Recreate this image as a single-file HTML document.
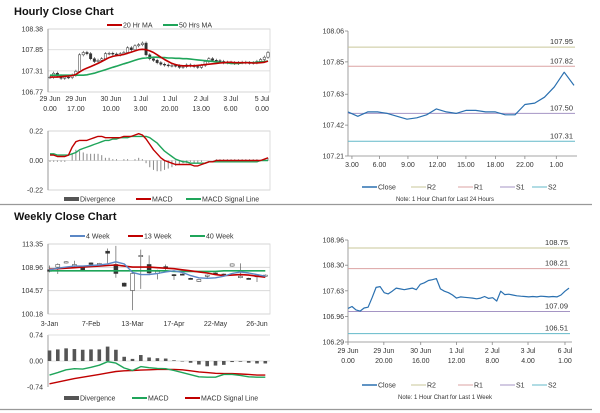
<!DOCTYPE html>
<html><head><meta charset="utf-8"><style>
html,body{margin:0;padding:0;background:#fff;width:600px;height:413px;overflow:hidden}
svg{display:block;font-family:"Liberation Sans",Arial,sans-serif}
</style></head><body>
<svg id="root" width="600" height="413" viewBox="0 0 600 413" xmlns="http://www.w3.org/2000/svg">
<text x="14" y="15" font-size="11" font-weight="bold" fill="#111">Hourly Close Chart</text>
<text x="14" y="220" font-size="11" font-weight="bold" fill="#111">Weekly Close Chart</text>
<line x1="0" y1="204.5" x2="592" y2="204.5" stroke="#999" stroke-width="1.2"/>
<line x1="0" y1="409.5" x2="592" y2="409.5" stroke="#999" stroke-width="1.2"/>
</svg>
<script>
// ---------- data ----------
const hourlyClose=[107.15,107.25,107.18,107.12,107.15,107.14,107.20,107.30,107.72,107.78,107.75,107.62,107.55,107.58,107.62,107.75,107.76,107.74,107.72,107.75,107.78,107.90,107.85,107.95,107.98,108.02,107.72,107.62,107.58,107.52,107.48,107.46,107.44,107.45,107.44,107.40,107.42,107.46,107.44,107.42,107.40,107.45,107.55,107.62,107.58,107.57,107.55,107.52,107.53,107.52,107.50,107.52,107.53,107.52,107.51,107.52,107.55,107.60,107.66,107.78];
const hourlyMA20=[107.15,107.15,107.15,107.16,107.17,107.18,107.19,107.22,107.28,107.34,107.38,107.42,107.46,107.50,107.55,107.60,107.65,107.68,107.70,107.71,107.73,107.76,107.79,107.82,107.85,107.86,107.85,107.82,107.78,107.72,107.66,107.60,107.55,107.50,107.47,107.45,107.44,107.44,107.44,107.44,107.45,107.46,107.47,107.48,107.49,107.50,107.51,107.52,107.53,107.53,107.52,107.52,107.52,107.52,107.52,107.51,107.51,107.52,107.53,107.56];
const hourlyMA50=[107.2,107.2,107.2,107.2,107.2,107.2,107.2,107.2,107.2,107.2,107.21,107.23,107.25,107.28,107.31,107.34,107.37,107.40,107.43,107.46,107.49,107.52,107.55,107.58,107.61,107.63,107.64,107.65,107.66,107.66,107.65,107.65,107.64,107.64,107.63,107.63,107.62,107.62,107.61,107.60,107.59,107.58,107.57,107.56,107.55,107.54,107.53,107.52,107.51,107.50,107.50,107.50,107.51,107.52,107.52,107.52,107.53,107.54,107.55,107.56];
const hourlyTickIdx=[0,7,16.5,24.5,32.4,40.9,48.9,57.4];
const hourlyTickTop=["29 Jun","29 Jun","30 Jun","1 Jul","1 Jul","2 Jul","3 Jul","5 Jul"];
const hourlyTickBot=["0.00","17.00","10.00","3.00","20.00","13.00","6.00","0.00"];
const hourlyPriceTicks=[108.38,107.85,107.31,106.77];
const hMacd=[0.04,0.04,0.03,0.03,0.03,0.04,0.10,0.14,0.15,0.15,0.15,0.16,0.17,0.18,0.18,0.17,0.17,0.17,0.17,0.17,0.18,0.18,0.18,0.19,0.20,0.19,0.16,0.12,0.08,0.05,0.02,0.00,-0.01,-0.02,-0.03,-0.03,-0.03,-0.03,-0.03,-0.04,-0.04,-0.03,-0.02,-0.01,-0.01,0.00,0.00,0.00,0.00,0.00,0.00,0.00,0.00,0.00,0.00,0.00,0.00,0.00,0.01,0.02];
const hSignal=[0.05,0.05,0.04,0.04,0.04,0.04,0.05,0.06,0.08,0.09,0.10,0.11,0.12,0.13,0.14,0.15,0.15,0.16,0.16,0.17,0.17,0.17,0.18,0.18,0.18,0.18,0.18,0.17,0.15,0.13,0.10,0.07,0.05,0.03,0.01,0.00,-0.01,-0.01,-0.02,-0.02,-0.02,-0.02,-0.02,-0.01,-0.01,-0.01,-0.01,-0.01,-0.01,-0.01,-0.01,-0.01,-0.01,-0.01,-0.01,-0.01,-0.01,0.00,0.00,0.00];
const hMacdTicks=[0.22,0.00,-0.22];
const dayClose=[107.51,107.48,107.51,107.51,107.50,107.48,107.46,107.47,107.49,107.53,107.51,107.50,107.52,107.52,107.51,107.51,107.49,107.49,107.56,107.57,107.61,107.68,107.78,107.69];
const dayLevels=[107.95,107.82,107.50,107.31];
const dayTicks=[108.06,107.85,107.63,107.42,107.21];
const dayTickIdx=[0.4,3.2,6.1,9.1,12,15,18,21.2];
const dayTickLabels=["3.00","6.00","9.00","12.00","15.00","18.00","22.00","1.00"];
const wOpen=[108.5,109.0,109.8,109.3,108.9,109.8,109.6,112.0,109.5,106.0,104.6,111.1,109.5,107.8,109.1,107.6,107.7,106.9,106.3,107.4,107.9,107.7,109.2,107.0,106.9,107.4,107.4];
const wClose=[108.2,109.5,110.0,109.5,108.4,109.5,109.7,111.6,107.8,105.4,107.8,111.2,107.9,108.2,109.0,107.4,107.6,106.8,106.7,107.5,107.8,107.6,109.6,107.3,106.8,107.3,107.5];
const wHigh=[109.3,109.7,110.1,110.2,109.0,109.9,109.8,112.5,113.0,106.1,108.2,112.3,111.2,108.5,109.5,107.7,107.8,107.0,106.8,107.6,108.0,107.8,109.7,109.7,107.0,107.4,107.6];
const wLow=[108.0,107.7,109.7,108.9,108.3,109.4,109.5,109.5,107.0,105.3,100.9,104.9,107.5,106.7,108.3,106.6,107.5,106.7,106.2,106.9,107.7,107.5,109.1,106.9,106.7,106.2,107.3];
const wMA4=[108.5,108.8,109.0,109.2,109.2,109.3,109.4,109.6,110.0,109.6,108.0,107.6,107.6,107.8,108.1,108.3,108.0,107.4,107.0,106.9,107.0,107.3,107.8,108.1,107.9,107.6,107.3];
const wMA13=[108.6,108.7,108.8,108.9,109.0,109.1,109.2,109.3,109.4,109.2,109.0,109.0,109.0,108.9,108.8,108.7,108.5,108.3,108.1,107.9,107.6,107.4,107.5,107.6,107.5,107.3,107.1];
const wMA40=[108.3,108.3,108.3,108.3,108.3,108.3,108.3,108.3,108.3,108.3,108.3,108.3,108.3,108.3,108.3,108.2,108.2,108.2,108.2,108.2,108.2,108.3,108.3,108.3,108.3,108.3,108.3];
const weekTickIdx=[0,5,10,15,20,25];
const weekTickLabels=["3-Jan","7-Feb","13-Mar","17-Apr","22-May","26-Jun"];
const weekPriceTicks=[113.35,108.96,104.57,100.18];
const wDiv=[0.30,0.33,0.36,0.34,0.32,0.33,0.33,0.41,0.32,0.12,0.06,0.17,0.10,0.08,0.07,0.02,0.00,-0.05,-0.10,-0.15,-0.13,-0.11,-0.03,-0.02,-0.05,-0.07,-0.07];
const wMacd=[-0.40,-0.33,-0.25,-0.22,-0.23,-0.18,-0.12,-0.02,-0.06,-0.20,-0.27,-0.16,-0.19,-0.21,-0.22,-0.27,-0.33,-0.39,-0.45,-0.46,-0.46,-0.38,-0.38,-0.41,-0.45,-0.46,-0.46];
const wSignal=[-0.65,-0.60,-0.55,-0.50,-0.46,-0.42,-0.38,-0.34,-0.30,-0.28,-0.27,-0.26,-0.25,-0.24,-0.24,-0.24,-0.25,-0.28,-0.31,-0.33,-0.35,-0.36,-0.36,-0.37,-0.38,-0.40,-0.40];
const wMacdTicks=[0.74,0.00,-0.74];
const weekClose=[107.17,107.22,107.13,107.10,107.18,107.20,107.45,107.72,107.74,107.58,107.55,107.62,107.70,107.68,107.66,107.68,107.70,107.66,107.80,107.84,107.90,107.92,107.95,107.68,107.62,107.58,107.52,107.44,107.47,107.46,107.45,107.44,107.42,107.44,107.48,107.43,107.45,107.36,107.62,107.53,107.54,107.52,107.50,107.49,107.48,107.47,107.48,107.47,107.49,107.48,107.47,107.48,107.47,107.52,107.62,107.70];
const weekLevels=[108.75,108.21,107.09,106.51];
const weekRTicks=[108.96,108.30,107.63,106.96,106.29];
const weekRTickIdx=[0,8.92,18.1,27,35.9,44.8,54];
const weekRTop=["29 Jun","29 Jun","30 Jun","1 Jul","2 Jul","3 Jul","6 Jul"];
const weekRBot=["0.00","20.00","16.00","12.00","8.00","4.00","1.00"];
const levelNames=["R2","R1","S1","S2"];
const levelColors=["#c9c79a","#dba3a3","#a595c4","#63b9c9"];

// ---------- helpers ----------
const NS="http://www.w3.org/2000/svg";
const root=document.getElementById('root');
function mk(tag,attrs,name,parent){
  const el=document.createElementNS(NS,tag);
  for(const k in attrs) el.setAttribute(k,attrs[k]);
  
  
  (parent||root).appendChild(el);
  return el;
}
function txt(x,y,s,name,opts){
  opts=opts||{};
  const t=mk('text',{x:x,y:y,'font-size':opts.fs||7,fill:opts.fill||'#333','text-anchor':opts.anchor||'start'},name);
  t.textContent=s;return t;
}
function lin(d0,d1,r0,r1){return v=>r0+(v-d0)*(r1-r0)/(d1-d0);}
function poly(arr,xs,ys,color,w,name){
  const pts=arr.map((v,i)=>xs(i).toFixed(1)+','+ys(v).toFixed(1)).join(' ');
  return mk('polyline',{points:pts,fill:'none',stroke:color,'stroke-width':w,'stroke-linejoin':'round'},name);
}
function box(x0,x1,y0,y1,name){
  mk('rect',{x:x0,y:y0,width:x1-x0,height:y1-y0,fill:'none',stroke:'#d4d4d4','stroke-width':0.8},name);
}
function legLine(x,y,color,label,name,w){
  mk('line',{x1:x,y1:y,x2:x+15,y2:y,stroke:color,'stroke-width':w||2},name+'-swatch');
  txt(x+16,y+2.5,label,name,{fs:7});
}
function legBox(x,y,label,name){
  mk('rect',{x:x,y:y-2,width:15,height:4,fill:'#555'},name+'-swatch');
  txt(x+16,y+2.5,label,name,{fs:7});
}

// ---------- hourly price ----------
(function(){
  const X0=48,X1=270;
  const xs=lin(0,hourlyClose.length-1,X0+2,X1-2);
  const ys=lin(108.38,106.77,29,92);
  box(X0,X1,29,92,'hourly-price-plot');
  hourlyPriceTicks.forEach((t,i)=>{
    mk('line',{x1:X0,y1:ys(t),x2:X1,y2:ys(t),stroke:'#d4d4d4','stroke-width':0.8},'hourly-price-gridline');
    txt(X0-5,ys(t)+2.5,t.toFixed(2),'hourly-price-tick',{anchor:'end'});
  });
  mk('line',{x1:X0,y1:29,x2:X0,y2:92,stroke:'#888','stroke-width':0.8},'hourly-price-y-axis');
  hourlyTickIdx.forEach((ix,i)=>{
    txt(xs(ix),101,hourlyTickTop[i],'hourly-x-tick',{anchor:'middle'});
    txt(xs(ix),111,hourlyTickBot[i],'hourly-x-tick',{anchor:'middle'});
  });
  hourlyClose.forEach((c,i)=>{
    const o=i?hourlyClose[i-1]:c;
    const hi=Math.max(o,c)+0.04,lo=Math.min(o,c)-0.04;
    mk('line',{x1:xs(i),y1:ys(hi),x2:xs(i),y2:ys(lo),stroke:'#333','stroke-width':0.6},'hourly-candle-wick');
    const top=ys(Math.max(o,c)),h=Math.max(0.8,ys(Math.min(o,c))-top);
    mk('rect',{x:xs(i)-1.2,y:top,width:2.4,height:h,fill:c>=o?'#fff':'#333',stroke:'#333','stroke-width':0.5},'hourly-candle');
  });
  poly(hourlyMA50,xs,ys,'#1fa55a',1.6,'hourly-ma50-line');
  poly(hourlyMA20,xs,ys,'#c00000',1.6,'hourly-ma20-line');
  legLine(107,25,'#c00000','20 Hr MA','legend-20hr-ma');
  legLine(163,25,'#1fa55a','50 Hrs MA','legend-50hr-ma');
})();

// ---------- hourly MACD ----------
(function(){
  const X0=48,X1=270;
  const xs=lin(0,hMacd.length-1,X0+2,X1-2);
  const ys=lin(0.22,-0.22,131,190);
  box(X0,X1,131,190,'hourly-macd-plot');
  hMacdTicks.forEach(t=>{
    mk('line',{x1:X0,y1:ys(t),x2:X1,y2:ys(t),stroke:'#d4d4d4','stroke-width':0.8},'hourly-macd-gridline');
    txt(X0-5,ys(t)+2.5,t.toFixed(2),'hourly-macd-tick',{anchor:'end'});
  });
  mk('line',{x1:X0,y1:131,x2:X0,y2:190,stroke:'#888','stroke-width':0.8},'hourly-macd-y-axis');
  hMacd.forEach((m,i)=>{
    const d=m-hSignal[i];
    mk('line',{x1:xs(i),y1:ys(0),x2:xs(i),y2:ys(d),stroke:'#888','stroke-width':1},'hourly-divergence-bar');
  });
  poly(hSignal,xs,ys,'#1fa55a',1.4,'hourly-macd-signal-line');
  poly(hMacd,xs,ys,'#c00000',1.4,'hourly-macd-line');
  legBox(64,199,'Divergence','legend-hourly-divergence');
  legLine(136,199,'#c00000','MACD','legend-hourly-macd');
  legLine(186,199,'#1fa55a','MACD Signal Line','legend-hourly-signal');
})();

// ---------- right level chart ----------
function levelChart(data,levels,ticks,X0,X1,Y0,Y1,tickIdx,top,bot,legY,note,prefix){
  const xs=lin(0,data.length-1,X0,X1);
  const ys=lin(ticks[0],ticks[ticks.length-1],Y0,Y1);
  mk('line',{x1:X0,y1:Y0,x2:X0,y2:Y1,stroke:'#888','stroke-width':0.8},prefix+'-y-axis');
  mk('line',{x1:X0,y1:Y1,x2:X1+3,y2:Y1,stroke:'#888','stroke-width':0.8},prefix+'-x-axis');
  ticks.forEach(t=>{
    mk('line',{x1:X0-3,y1:ys(t),x2:X0,y2:ys(t),stroke:'#888','stroke-width':0.8},prefix+'-y-tickmark');
    txt(X0-4,ys(t)+2.5,t.toFixed(2),prefix+'-y-tick',{anchor:'end'});
  });
  tickIdx.forEach((ix,i)=>{
    mk('line',{x1:xs(ix),y1:Y1,x2:xs(ix),y2:Y1+3,stroke:'#888','stroke-width':0.8},prefix+'-x-tickmark');
    if(bot){txt(xs(ix),Y1+11,top[i],prefix+'-x-tick',{anchor:'middle'});txt(xs(ix),Y1+21,bot[i],prefix+'-x-tick',{anchor:'middle'});}
    else txt(xs(ix),Y1+11,top[i],prefix+'-x-tick',{anchor:'middle'});
  });
  levels.forEach((l,i)=>{
    mk('line',{x1:X0,y1:ys(l),x2:X1+1,y2:ys(l),stroke:levelColors[i],'stroke-width':1},prefix+'-'+levelNames[i].toLowerCase()+'-line');
    txt(X1-1,ys(l)-3,l.toFixed(2),prefix+'-'+levelNames[i].toLowerCase()+'-label',{anchor:'end',fs:7.5});
  });
  poly(data,xs,ys,'#2a70b0',1.2,prefix+'-close-line');
  const lx=[362,411,458,500,532];
  legLine(lx[0],legY,'#2a70b0','Close',prefix+'-legend-close',1.5);
  levelNames.forEach((n,i)=>legLine(lx[i+1],legY,levelColors[i],n,prefix+'-legend-'+n.toLowerCase(),1));
  txt(445,legY+14,note,prefix+'-note',{anchor:'middle',fs:6});
}
levelChart(dayClose,dayLevels,dayTicks,348,574,31,156,dayTickIdx,dayTickLabels,null,187,'Note: 1 Hour Chart for Last 24 Hours','daily-level-chart');
levelChart(weekClose,weekLevels,weekRTicks,348,569,240,342,weekRTickIdx,weekRTop,weekRBot,385,'Note: 1 Hour Chart for Last 1 Week','weekly-level-chart');

// ---------- weekly price ----------
(function(){
  const X0=48,X1=270;
  const xs=lin(0,25,49.5,257);
  const ys=lin(113.35,100.18,244,314);
  box(X0,X1,244,314,'weekly-price-plot');
  weekPriceTicks.forEach(t=>{
    mk('line',{x1:X0,y1:ys(t),x2:X1,y2:ys(t),stroke:'#d4d4d4','stroke-width':0.8},'weekly-price-gridline');
    txt(X0-5,ys(t)+2.5,t.toFixed(2),'weekly-price-tick',{anchor:'end'});
  });
  mk('line',{x1:X0,y1:244,x2:X0,y2:314,stroke:'#888','stroke-width':0.8},'weekly-price-y-axis');
  weekTickIdx.forEach((ix,i)=>txt(xs(ix),326,weekTickLabels[i],'weekly-x-tick',{anchor:'middle'}));
  wClose.forEach((c,i)=>{
    const o=wOpen[i];
    mk('line',{x1:xs(i),y1:ys(wHigh[i]),x2:xs(i),y2:ys(wLow[i]),stroke:'#444','stroke-width':0.6},'weekly-candle-wick');
    const top=ys(Math.max(o,c)),h=Math.max(1.2,ys(Math.min(o,c))-top);
    mk('rect',{x:xs(i)-2,y:top,width:4,height:h,fill:c>=o?'#fff':'#333',stroke:'#333','stroke-width':0.5},'weekly-candle');
  });
  poly(wMA40,xs,ys,'#1fa55a',1.6,'weekly-ma40-line');
  poly(wMA13,xs,ys,'#c00000',1.6,'weekly-ma13-line');
  poly(wMA4,xs,ys,'#5b87c5',1.4,'weekly-ma4-line');
  legLine(70,236,'#5b87c5','4 Week','legend-4-week');
  legLine(128,236,'#c00000','13 Week','legend-13-week');
  legLine(190,236,'#1fa55a','40 Week','legend-40-week');
})();

// ---------- weekly MACD ----------
(function(){
  const X0=48,X1=270;
  const xs=lin(0,25,49.5,257);
  const ys=lin(0.74,-0.74,335,387);
  mk('line',{x1:X0,y1:335,x2:X0,y2:387,stroke:'#888','stroke-width':0.8},'weekly-macd-y-axis');
  mk('line',{x1:X0,y1:ys(0),x2:X1,y2:ys(0),stroke:'#d4d4d4','stroke-width':0.8},'weekly-macd-zero-line');
  mk('line',{x1:X0,y1:335,x2:X1,y2:335,stroke:'#d4d4d4','stroke-width':0.8},'weekly-macd-top-line');
  wMacdTicks.forEach(t=>txt(X0-5,ys(t)+2.5,t.toFixed(2),'weekly-macd-tick',{anchor:'end'}));
  wDiv.forEach((d,i)=>{
    const y=Math.min(ys(0),ys(d)),h=Math.max(0.5,Math.abs(ys(d)-ys(0)));
    mk('rect',{x:xs(i)-1.8,y:y,width:3.6,height:h,fill:'#555'},'weekly-divergence-bar');
  });
  poly(wSignal,xs,ys,'#c00000',1.4,'weekly-macd-signal-line');
  poly(wMacd,xs,ys,'#1fa55a',1.4,'weekly-macd-line');
  legBox(64,398,'Divergence','legend-weekly-divergence');
  legLine(132,398,'#1fa55a','MACD','legend-weekly-macd');
  legLine(185,398,'#c00000','MACD Signal Line','legend-weekly-signal');
})();
</script>
</body></html>
